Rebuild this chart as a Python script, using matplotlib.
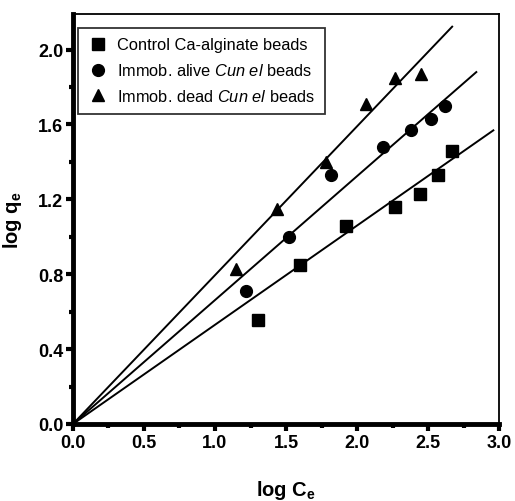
import numpy as np
import matplotlib
matplotlib.use("Agg")
import matplotlib.pyplot as plt
from matplotlib.ticker import MultipleLocator, FormatStrFormatter

plt.rcParams['font.family'] = ['Liberation Sans', 'DejaVu Sans']
plt.rcParams['mathtext.fontset'] = 'custom'
plt.rcParams['mathtext.rm'] = 'Liberation Sans'
plt.rcParams['mathtext.it'] = 'Liberation Sans:italic'
plt.rcParams['mathtext.bf'] = 'Liberation Sans:bold'

# Data (log Ce, log qe)
control_x = [1.30, 1.60, 1.92, 2.27, 2.44, 2.57, 2.67]
control_y = [0.555, 0.85, 1.06, 1.16, 1.23, 1.33, 1.46]
alive_x = [1.22, 1.52, 1.82, 2.18, 2.38, 2.52, 2.62]
alive_y = [0.71, 1.00, 1.33, 1.48, 1.57, 1.63, 1.70]
dead_x = [1.15, 1.44, 1.78, 2.06, 2.27, 2.45]
dead_y = [0.83, 1.15, 1.40, 1.71, 1.85, 1.87]

# fitted lines through the origin: slope and end of drawn line
fit_slopes = [0.53, 0.662, 0.795]
fit_ends = [2.96, 2.84, 2.67]

labels = ["Control Ca-alginate beads",
          r"Immob. alive $\mathit{Cun\ el}$ beads",
          r"Immob. dead $\mathit{Cun\ el}$ beads"]

fig = plt.figure(figsize=(5.15, 5.02), dpi=100)
ax = fig.add_axes([0.1417, 0.1534, 0.969 - 0.1417, 0.970 - 0.1534])

ax.plot(control_x, control_y, 's', color='black', markersize=8, label=labels[0], zorder=3)
ax.plot(alive_x, alive_y, 'o', color='black', markersize=8.5, label=labels[1], zorder=3)
ax.plot(dead_x, dead_y, '^', color='black', markersize=9, label=labels[2], zorder=3)

for slope, end in zip(fit_slopes, fit_ends):
    xs = np.array([0, end])
    ax.plot(xs, slope * xs, color='black', linewidth=1.4, zorder=2)

ax.set_xlim(0, 3.0)
ax.set_ylim(0, 2.19)
ax.xaxis.set_major_locator(MultipleLocator(0.5))
ax.xaxis.set_minor_locator(MultipleLocator(0.25))
ax.yaxis.set_major_locator(MultipleLocator(0.4))
ax.yaxis.set_minor_locator(MultipleLocator(0.2))
ax.xaxis.set_major_formatter(FormatStrFormatter('%.1f'))
ax.yaxis.set_major_formatter(FormatStrFormatter('%.1f'))

ax.spines['left'].set_linewidth(3.5)
ax.spines['bottom'].set_linewidth(3.5)
ax.spines['top'].set_linewidth(1.3)
ax.spines['right'].set_linewidth(1.3)

ax.tick_params(which='both', direction='out', width=3, color='black',
               top=False, right=False)
ax.tick_params(which='major', length=5, labelsize=13, pad=2)
ax.tick_params(which='minor', length=3)
for lab in ax.get_xticklabels() + ax.get_yticklabels():
    lab.set_fontweight('bold')

ax.set_xlabel(r"log C$_\mathbf{e}$", fontsize=14.5, fontweight='bold', labelpad=20)
ax.set_ylabel(r"log q$_\mathbf{e}$", fontsize=14.5, fontweight='bold', labelpad=10)

leg = ax.legend(loc='upper left', bbox_to_anchor=(0.012, 0.967), fontsize=11.8,
                frameon=True, fancybox=False, edgecolor='black',
                handletextpad=0.6, borderpad=0.6, labelspacing=0.6,
                handlelength=1.2, borderaxespad=0)
leg.get_frame().set_linewidth(1.3)

fig.savefig("out.png", dpi=100)
